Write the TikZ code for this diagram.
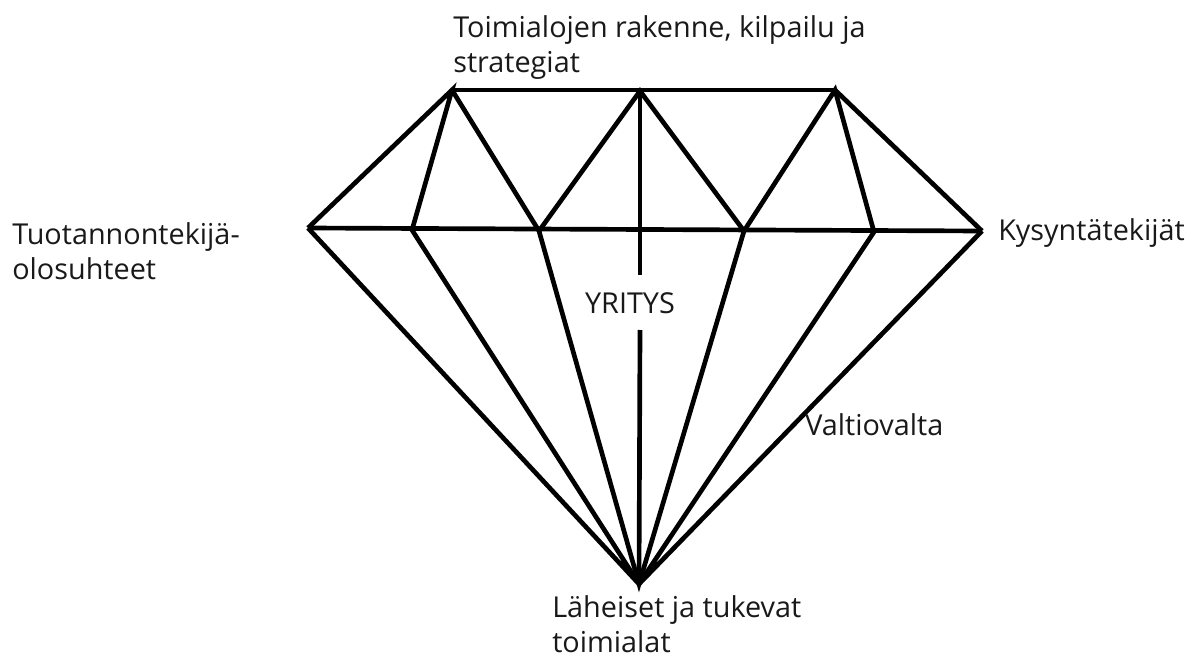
\documentclass[tikz,border=0pt]{standalone}
\usepackage{fontspec}
\setmainfont{Open Sans}
\begin{document}
\begin{tikzpicture}[x=0.75pt,y=-0.75pt,
  edge/.style={line width=3.5pt,line join=miter},
  lbl/.style={font=\fontsize{21.6}{26.25}\selectfont,inner sep=0pt,align=left,text=black!90}]
\useasboundingbox (0,0) rectangle (1204,660);
% top vertices
\coordinate (t1) at (452,90);
\coordinate (t2) at (640,91);
\coordinate (t3) at (835,90);
% girdle
\coordinate (g1) at (308,228);
\coordinate (g2) at (412,230);
\coordinate (g3) at (539,231);
\coordinate (gc) at (640,231);
\coordinate (g4) at (744,231);
\coordinate (g5) at (874,232);
\coordinate (g6) at (982,231);
% apex
\coordinate (ap) at (639,584);
% centre line gap
\coordinate (c1) at (640,275);
\coordinate (c2) at (640,330);
% edges
\draw[edge] (t1) -- (t3);
\draw[edge] (g1) -- (g6);
\draw[edge] (g1) -- (t1) -- (g2);
\draw[edge] (t1) -- (g3) -- (t2) -- (g4) -- (t3) -- (g5);
\draw[edge] (t3) -- (g6);
\draw[edge] (t2) -- (c1);
\draw[edge] (c2) -- (ap);
\draw[edge] (g1) -- (ap) -- (g2);
\draw[edge] (g3) -- (ap) -- (g4);
\draw[edge] (g5) -- (ap) -- (g6);
% labels
\node[lbl,anchor=west] (top) at (453,48) {Toimialojen rakenne, kilpailu ja\\strategiat};
\node[lbl,anchor=west] (left) at (12,251) {Tuotannontekijä-\\olosuhteet};
\node[lbl,anchor=west] (right) at (998,233) {Kysyntätekijät};
\node[lbl] (yr) at (630,303) {YRITYS};
\node[lbl,anchor=west] (val) at (805,425) {Valtiovalta};
\node[lbl,anchor=west] (bot) at (552,624) {Läheiset ja tukevat\\toimialat};
\end{tikzpicture}
\end{document}
